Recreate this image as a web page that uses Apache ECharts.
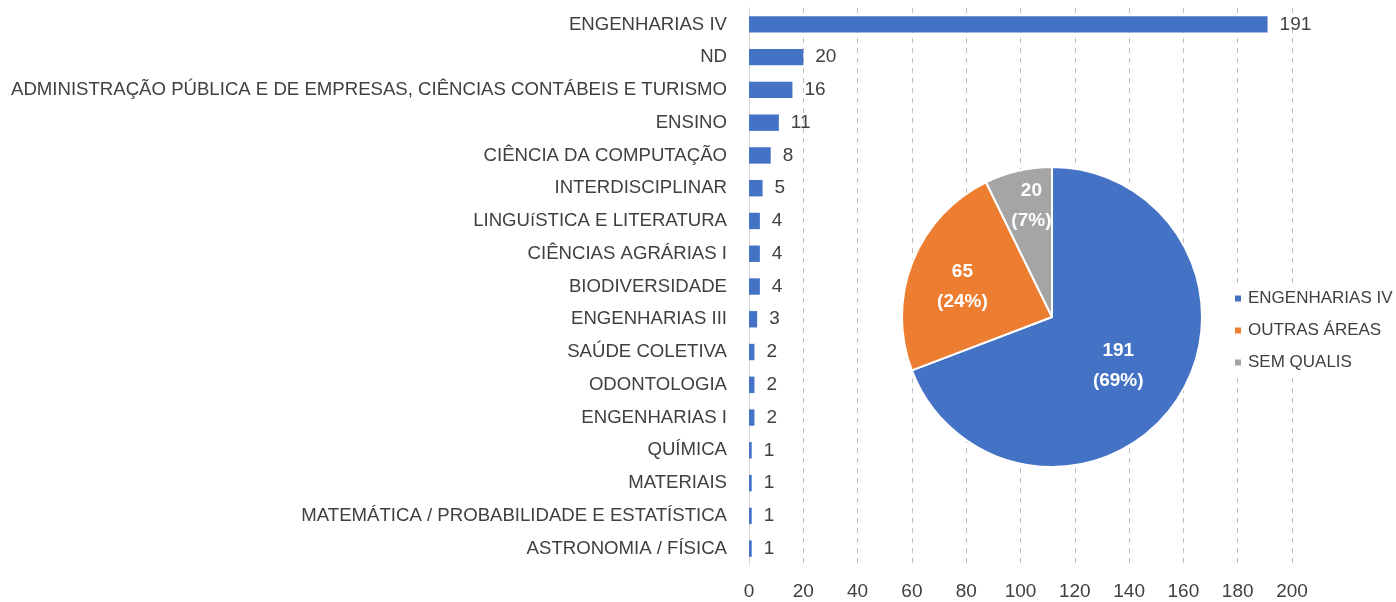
<!DOCTYPE html>
<html>
<head>
<meta charset="utf-8">
<script src="https://cdn.jsdelivr.net/npm/echarts@6/dist/echarts.min.js"></script>
<style>
  html, body { margin: 0; padding: 0; background: #fff; }
  #chart { width: 1396px; height: 602px; }
</style>
</head>
<body>
<div id="chart"></div>
<script>
// categorias (de cima para baixo)
var areas = [
    'ENGENHARIAS IV', 'ND',
    'ADMINISTRAÇÃO PÚBLICA E DE EMPRESAS, CIÊNCIAS CONTÁBEIS E TURISMO',
    'ENSINO', 'CIÊNCIA DA COMPUTAÇÃO', 'INTERDISCIPLINAR',
    'LINGUíSTICA E LITERATURA', 'CIÊNCIAS AGRÁRIAS I', 'BIODIVERSIDADE',
    'ENGENHARIAS III', 'SAÚDE COLETIVA', 'ODONTOLOGIA', 'ENGENHARIAS I',
    'QUÍMICA', 'MATERIAIS', 'MATEMÁTICA / PROBABILIDADE E ESTATÍSTICA',
    'ASTRONOMIA / FÍSICA'
];
var contagem = [191, 20, 16, 11, 8, 5, 4, 4, 4, 3, 2, 2, 2, 1, 1, 1, 1];
var ticksX = [0, 20, 40, 60, 80, 100, 120, 140, 160, 180, 200];

// pizza
var grupos = ['ENGENHARIAS IV', 'OUTRAS ÁREAS', 'SEM QUALIS'];
var totais = [191, 65, 20];
var cores = ['#4472C4', '#ED7D31', '#A5A5A5'];
// deslocamento dos rótulos da pizza (estilo Excel)
var deslocRotulo = [[2, 5], [-17, -2], [-3, -35]];

var fonte = '"Liberation Sans", Arial, sans-serif';
var chart = echarts.init(document.getElementById('chart'));

var option = {
    backgroundColor: '#fff',
    textStyle: { fontFamily: fonte },
    grid: { left: 749, right: 104, top: 8, bottom: 37 },
    legend: {
        data: grupos,
        orient: 'vertical',
        left: 1229,
        top: 286,
        itemWidth: 8,
        itemHeight: 8,
        itemGap: 15,
        icon: 'rect',
        backgroundColor: '#fff',
        padding: [4, 4, 4, 4],
        textStyle: { fontSize: 17, color: '#404040', fontFamily: fonte, padding: [0, 0, 0, 1] }
    },
    xAxis: {
        type: 'value',
        min: ticksX[0], max: ticksX[ticksX.length - 1], interval: 20,
        axisLine: { show: false },
        axisTick: { show: false },
        axisLabel: { fontSize: 19, color: '#404040', margin: 17 },
        splitLine: { show: true, lineStyle: { color: '#BFBFBF', type: [5, 5], width: 1 } }
    },
    yAxis: {
        type: 'category',
        data: areas,
        inverse: true,
        axisLine: { show: true, lineStyle: { color: '#D9D9D9' } },
        axisTick: { show: false },
        axisLabel: { fontSize: 18.6, color: '#404040', margin: 22 }
    },
    series: [{
        name: 'Área',
        type: 'bar',
        data: contagem,
        barWidth: '50%',
        itemStyle: { color: '#4472C4' },
        label: { show: true, position: 'right', distance: 12, fontSize: 19, color: '#404040' },
        z: 2
    }, {
        name: 'Qualis',
        type: 'pie',
        center: [1052, 317],
        radius: 150,
        startAngle: 90,
        clockwise: true,
        data: grupos.map(function(g, i) {
            return {
                name: g, value: totais[i],
                itemStyle: { color: cores[i] },
                label: { offset: deslocRotulo[i] }
            };
        }),
        itemStyle: { borderColor: '#fff', borderWidth: 2 },
        label: {
            show: true, position: 'inside',
            formatter: function(p) { return p.value + '\n(' + Math.round(p.percent) + '%)'; },
            color: '#fff', fontSize: 19, fontWeight: 'bold', lineHeight: 30
        },
        labelLine: { show: false },
        emphasis: { disabled: true },
        z: 5
    }]
};

chart.setOption(option);
</script>
</body>
</html>
